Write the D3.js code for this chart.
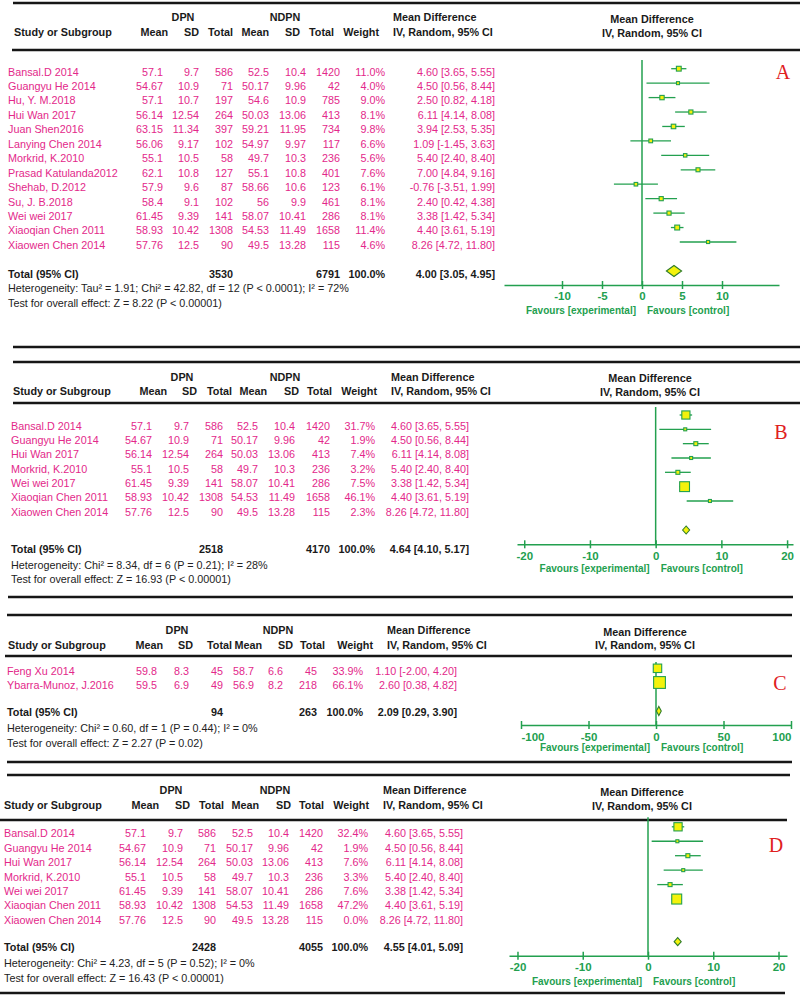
<!DOCTYPE html>
<html><head><meta charset="utf-8">
<script src="https://cdn.jsdelivr.net/npm/d3@7"></script>
<style>body{margin:0;background:#fff} svg{display:block} text{font-family:"Liberation Sans",Arial,sans-serif}</style>
</head><body><svg id="c" width="800" height="996"></svg>
<script>
// ---------- DATA ----------
const studiesA = ["Bansal.D 2014","Guangyu He 2014","Hu, Y. M.2018","Hui Wan 2017","Juan Shen2016","Lanying Chen 2014","Morkrid, K.2010","Prasad Katulanda2012","Shehab, D.2012","Su, J. B.2018","Wei wei 2017","Xiaoqian Chen 2011","Xiaowen Chen 2014"];
const dpnA = [[57.1,9.7,586],[54.67,10.9,71],[57.1,10.7,197],[56.14,12.54,264],[63.15,11.34,397],[56.06,9.17,102],[55.1,10.5,58],[62.1,10.8,127],[57.9,9.6,87],[58.4,9.1,102],[61.45,9.39,141],[58.93,10.42,1308],[57.76,12.5,90]];
const ndpnA = [[52.5,10.4,1420],[50.17,9.96,42],[54.6,10.9,785],[50.03,13.06,413],[59.21,11.95,734],[54.97,9.97,117],[49.7,10.3,236],[55.1,10.8,401],[58.66,10.6,123],[56,9.9,461],[58.07,10.41,286],[54.53,11.49,1658],[49.5,13.28,115]];
const weightA = [11.0,4.0,9.0,8.1,9.8,6.6,5.6,7.6,6.1,8.1,8.1,11.4,4.6];
const effectA = [[4.60,3.65,5.55],[4.50,0.56,8.44],[2.50,0.82,4.18],[6.11,4.14,8.08],[3.94,2.53,5.35],[1.09,-1.45,3.63],[5.40,2.40,8.40],[7.00,4.84,9.16],[-0.76,-3.51,1.99],[2.40,0.42,4.38],[3.38,1.42,5.34],[4.40,3.61,5.19],[8.26,4.72,11.80]];
const totalA = [3530, 6791, 100.0, 4.00, 3.05, 4.95];
const statsA = ["Heterogeneity: Tau² = 1.91; Chi² = 42.82, df = 12 (P < 0.0001); I² = 72%","Test for overall effect: Z = 8.22 (P < 0.00001)"];
const ticksA = [-10,-5,0,5,10];

const studiesB = ["Bansal.D 2014","Guangyu He 2014","Hui Wan 2017","Morkrid, K.2010","Wei wei 2017","Xiaoqian Chen 2011","Xiaowen Chen 2014"];
const dpnB = [[57.1,9.7,586],[54.67,10.9,71],[56.14,12.54,264],[55.1,10.5,58],[61.45,9.39,141],[58.93,10.42,1308],[57.76,12.5,90]];
const ndpnB = [[52.5,10.4,1420],[50.17,9.96,42],[50.03,13.06,413],[49.7,10.3,236],[58.07,10.41,286],[54.53,11.49,1658],[49.5,13.28,115]];
const weightB = [31.7,1.9,7.4,3.2,7.5,46.1,2.3];
const effectB = [[4.60,3.65,5.55],[4.50,0.56,8.44],[6.11,4.14,8.08],[5.40,2.40,8.40],[3.38,1.42,5.34],[4.40,3.61,5.19],[8.26,4.72,11.80]];
const totalB = [2518, 4170, 100.0, 4.64, 4.10, 5.17];
const statsB = ["Heterogeneity: Chi² = 8.34, df = 6 (P = 0.21); I² = 28%","Test for overall effect: Z = 16.93 (P < 0.00001)"];
const ticksB = [-20,-10,0,10,20];

const studiesC = ["Feng Xu 2014","Ybarra-Munoz, J.2016"];
const dpnC = [[59.8,8.3,45],[59.5,6.9,49]];
const ndpnC = [[58.7,6.6,45],[56.9,8.2,218]];
const weightC = [33.9,66.1];
const effectC = [[1.10,-2.00,4.20],[2.60,0.38,4.82]];
const totalC = [94, 263, 100.0, 2.09, 0.29, 3.90];
const statsC = ["Heterogeneity: Chi² = 0.60, df = 1 (P = 0.44); I² = 0%","Test for overall effect: Z = 2.27 (P = 0.02)"];
const ticksC = [-100,-50,0,50,100];

const studiesD = ["Bansal.D 2014","Guangyu He 2014","Hui Wan 2017","Morkrid, K.2010","Wei wei 2017","Xiaoqian Chen 2011","Xiaowen Chen 2014"];
const dpnD = [[57.1,9.7,586],[54.67,10.9,71],[56.14,12.54,264],[55.1,10.5,58],[61.45,9.39,141],[58.93,10.42,1308],[57.76,12.5,90]];
const ndpnD = [[52.5,10.4,1420],[50.17,9.96,42],[50.03,13.06,413],[49.7,10.3,236],[58.07,10.41,286],[54.53,11.49,1658],[49.5,13.28,115]];
const weightD = [32.4,1.9,7.6,3.3,7.6,47.2,0.0];
const effectD = [[4.60,3.65,5.55],[4.50,0.56,8.44],[6.11,4.14,8.08],[5.40,2.40,8.40],[3.38,1.42,5.34],[4.40,3.61,5.19],[8.26,4.72,11.80]];
const totalD = [2428, 4055, 100.0, 4.55, 4.01, 5.09];
const statsD = ["Heterogeneity: Chi² = 4.23, df = 5 (P = 0.52); I² = 0%","Test for overall effect: Z = 16.43 (P < 0.00001)"];
const ticksD = [-20,-10,0,10,20];

const colHeaders = ["Mean","SD","Total","Mean","SD","Total","Weight"];

// ---------- LAYOUT ----------
const panels = [
 {letter:"A", studies:studiesA, dpn:dpnA, ndpn:ndpnA, w:weightA, eff:effectA, tot:totalA, stats:statsA, ticks:ticksA,
  lines:[[13,800,3],[12,800,50],[13,800,347]], hdr1:17, hdr2:32, studyHdrX:14, nameX:8,
  colHdr:[168,199,233,269,300,334,379], grp:[183,285], col:[163,199,233,269,306,340,385],
  mdRight:495, mdHdrX:393, row0:71.7, step:14.44, totalY:274, hetY:288.3, testY:303.5,
  plotHdrX:652, plotHdrY:[19,33], dom:[-17.25,17.125], rng:[504,779], zeroTop:60, axisY:285,
  mOff:-3, dY:271, dH:11, tickY:296, favY:310, lx:783, ly:72, edge:false},
 {letter:"B", studies:studiesB, dpn:dpnB, ndpn:ndpnB, w:weightB, eff:effectB, tot:totalB, stats:statsB, ticks:ticksB,
  lines:[[13,800,362],[13,800,403],[8,793,597]], hdr1:377, hdr2:391, studyHdrX:13, nameX:11,
  colHdr:[167,197,232,267,299,332,377], grp:[182,285], col:[152,189,223,258,295,330,375],
  mdRight:469, mdHdrX:391, row0:425.7, step:14.33, totalY:549, hetY:565, testY:579,
  plotHdrX:650, plotHdrY:[378,392], dom:[-21.1,20.9], rng:[517,793], zeroTop:407, axisY:544.3,
  mOff:-10.7, dY:530, dH:8, tickY:556, favY:568.3, lx:781, ly:432, edge:false},
 {letter:"C", studies:studiesC, dpn:dpnC, ndpn:ndpnC, w:weightC, eff:effectC, tot:totalC, stats:statsC, ticks:ticksC,
  lines:[[7,792,615],[5,792,656],[7,792,762]], hdr1:630, hdr2:645, studyHdrX:8, nameX:7,
  colHdr:[163,193,232,262,293,325,373], grp:[177,278], col:[157,189,223,254,283,317,363],
  mdRight:457, mdHdrX:387, row0:671, step:14.2, totalY:712, hetY:728.3, testY:743.3,
  plotHdrX:645, plotHdrY:[632,645], dom:[-100,100], rng:[521,791], zeroTop:662, axisY:725,
  mOff:-2.7, dY:711, dH:9, tickY:737, favY:747.3, lx:780, ly:683, edge:true},
 {letter:"D", studies:studiesD, dpn:dpnD, ndpn:ndpnD, w:weightD, eff:effectD, tot:totalD, stats:statsD, ticks:ticksD,
  lines:[[7,790,775],[0,787,820],[0,785,993]], hdr1:790, hdr2:805, studyHdrX:4, nameX:4,
  colHdr:[159,190,224,259,291,324,369], grp:[171,275], col:[146,183,216,253,289,323,368],
  mdRight:463, mdHdrX:383, row0:833.3, step:14.45, totalY:946.7, hetY:962.7, testY:978.3,
  plotHdrX:642, plotHdrY:[792,806], dom:[-21.3,21.3], rng:[509,787], zeroTop:817.3, axisY:955.7,
  mOff:-6.5, dY:941.7, dH:8, tickY:967, favY:980.7, lx:776, ly:845, edge:false}
];

const PINK = "#e3288a", GREEN = "#23a04f", DARK = "#1a1a1a", YEL = "#f4f20c";
const FS = 10.8, BL = 3.9;
const svg = d3.select("#c");

function txt(g, x, yc, s, opt = {}) {
  return g.append("text").attr("x", x).attr("y", yc + (opt.bl ?? BL)).text(s)
    .attr("font-size", opt.fs || FS).attr("font-weight", opt.bold ? "bold" : "normal")
    .attr("fill", opt.fill || DARK).attr("text-anchor", opt.anchor || "start");
}
const fmt2 = d3.format(".2f");
const ci = (m, l, h) => `${fmt2(m)} [${fmt2(l)}, ${fmt2(h)}]`.replace(/−/g, "-");

panels.forEach(p => {
  const g = svg.append("g");
  p.lines.forEach(l => g.append("line").attr("x1", l[0]).attr("x2", l[1]).attr("y1", l[2]).attr("y2", l[2])
    .attr("stroke", "#161616").attr("stroke-width", 2.6));
  // headers
  txt(g, p.grp[0], p.hdr1, "DPN", {bold:true, anchor:"middle"});
  txt(g, p.grp[1], p.hdr1, "NDPN", {bold:true, anchor:"middle"});
  txt(g, p.studyHdrX, p.hdr2, "Study or Subgroup", {bold:true});
  colHeaders.forEach((h, i) => txt(g, p.colHdr[i], p.hdr2, h, {bold:true, anchor:"end"}));
  txt(g, p.mdHdrX, p.hdr1, "Mean Difference", {bold:true});
  txt(g, p.mdHdrX, p.hdr2, "IV, Random, 95% CI", {bold:true});
  txt(g, p.plotHdrX, p.plotHdrY[0], "Mean Difference", {bold:true, anchor:"middle"});
  txt(g, p.plotHdrX, p.plotHdrY[1], "IV, Random, 95% CI", {bold:true, anchor:"middle"});
  // rows
  p.studies.forEach((s, i) => {
    const y = p.row0 + i * p.step;
    txt(g, p.nameX, y, s, {fill:PINK});
    const vals = [String(p.dpn[i][0]), String(p.dpn[i][1]), String(p.dpn[i][2]),
                  String(p.ndpn[i][0]), String(p.ndpn[i][1]), String(p.ndpn[i][2]),
                  p.w[i].toFixed(1) + "%"];
    vals.forEach((v, j) => txt(g, p.col[j], y, v, {fill:PINK, anchor:"end"}));
    txt(g, p.mdRight, y, ci(...p.eff[i]), {fill:PINK, anchor:"end"});
  });
  // totals
  txt(g, p.nameX, p.totalY, "Total (95% CI)", {bold:true});
  txt(g, p.col[2], p.totalY, String(p.tot[0]), {bold:true, anchor:"end"});
  txt(g, p.col[5], p.totalY, String(p.tot[1]), {bold:true, anchor:"end"});
  txt(g, p.col[6], p.totalY, p.tot[2].toFixed(1) + "%", {bold:true, anchor:"end"});
  txt(g, p.mdRight, p.totalY, ci(p.tot[3], p.tot[4], p.tot[5]), {bold:true, anchor:"end"});
  txt(g, p.nameX, p.hetY, p.stats[0], {fill:"#222"});
  txt(g, p.nameX, p.testY, p.stats[1], {fill:"#222"});

  // forest plot
  const x = d3.scaleLinear().domain(p.dom).range(p.rng);
  g.append("line").attr("x1", x(0)).attr("x2", x(0)).attr("y1", p.zeroTop).attr("y2", p.axisY)
    .attr("stroke", GREEN).attr("stroke-width", 1.5);
  p.studies.forEach((s, i) => {
    if (p.w[i] <= 0) return;
    const y = p.row0 + i * p.step + p.mOff;
    const [m, l, h] = p.eff[i];
    g.append("line").attr("x1", x(l)).attr("x2", x(h)).attr("y1", y).attr("y2", y)
      .attr("stroke", GREEN).attr("stroke-width", 1.3);
    const side = Math.max(3, 1.45 * Math.sqrt(p.w[i]));
    g.append("rect").attr("x", x(m) - side / 2).attr("y", y - side / 2).attr("width", side).attr("height", side)
      .attr("fill", YEL).attr("stroke", GREEN).attr("stroke-width", 1.1);
  });
  const [tm, tl, th] = [p.tot[3], p.tot[4], p.tot[5]];
  g.append("path").attr("d", `M${x(tl)},${p.dY}L${x(tm)},${p.dY - p.dH/2}L${x(th)},${p.dY}L${x(tm)},${p.dY + p.dH/2}Z`)
    .attr("fill", YEL).attr("stroke", "#2f7d2a").attr("stroke-width", 1.1);
  // axis
  const ax = g.append("g").attr("transform", `translate(0,${p.axisY})`)
    .call(d3.axisBottom(x).tickValues(p.ticks).tickSize(4).tickSizeOuter(0).tickFormat(d => String(d)));
  ax.select(".domain").attr("stroke", GREEN).attr("stroke-width", 1.5);
  ax.selectAll(".tick line").attr("y1", -4).attr("y2", 4).attr("stroke", GREEN).attr("stroke-width", 1.5);
  ax.selectAll(".tick text").attr("fill", GREEN).attr("font-weight", "bold").attr("font-size", 11.5)
    .style("font-family", '"Liberation Sans",Arial,sans-serif')
    .attr("dy", null).attr("y", p.tickY - p.axisY + 4.1)
    .attr("text-anchor", (d, i) => p.edge ? (i === 0 ? "start" : i === p.ticks.length - 1 ? "end" : "middle") : "middle");
  txt(g, x(0) - 6, p.favY, "Favours [experimental]", {bold:true, fill:GREEN, anchor:"end", fs:10});
  txt(g, x(0) + 5, p.favY, "Favours [control]", {bold:true, fill:GREEN, anchor:"start", fs:10});
  // panel letter
  g.append("text").attr("x", p.lx).attr("y", p.ly + 7).attr("text-anchor", "middle")
    .style("font-family", '"Liberation Serif","DejaVu Serif",serif').attr("font-size", 20)
    .attr("fill", "#e0201e").text(p.letter);
});
</script></body></html>
